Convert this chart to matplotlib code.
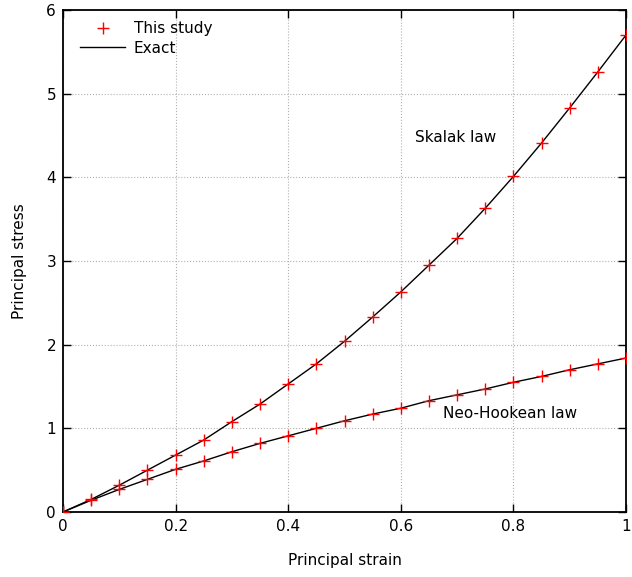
import numpy as np
import matplotlib.pyplot as plt

strain = [0.0, 0.05, 0.1, 0.15, 0.2, 0.25, 0.3, 0.35, 0.4, 0.45, 0.5,
          0.55, 0.6, 0.65, 0.7, 0.75, 0.8, 0.85, 0.9, 0.95, 1.0]
skalak = [0.0, 0.15, 0.32, 0.50, 0.68, 0.86, 1.08, 1.29, 1.53, 1.77, 2.04,
          2.33, 2.63, 2.95, 3.27, 3.63, 4.01, 4.41, 4.83, 5.26, 5.70]
neo = [0.0, 0.14, 0.27, 0.39, 0.51, 0.61, 0.72, 0.82, 0.91, 1.00, 1.09,
       1.17, 1.24, 1.33, 1.40, 1.47, 1.55, 1.62, 1.70, 1.77, 1.84]

fig = plt.figure(figsize=(6.32, 5.77), dpi=100)
ax = fig.add_axes([0.0997, 0.1127, 0.8908, 0.870])

ax.plot(strain, skalak, 'r+', ms=9, mew=1.0, ls='none', label='This study', zorder=3)
ax.plot(strain, skalak, 'k-', lw=1.0, label='Exact', zorder=2)
ax.plot(strain, neo, 'r+', ms=9, mew=1.0, ls='none', zorder=3)
ax.plot(strain, neo, 'k-', lw=1.0, zorder=2)

ax.text(0.625, 4.48, 'Skalak law', fontsize=11, va='center')
ax.text(0.675, 1.18, 'Neo-Hookean law', fontsize=11, va='center')

ax.set_xlim(0, 1)
ax.set_ylim(0, 6)
ax.set_xticks([0, 0.2, 0.4, 0.6, 0.8, 1])
ax.set_xticklabels(['0', '0.2', '0.4', '0.6', '0.8', '1'])
ax.set_yticks(range(7))
ax.tick_params(direction='in', length=6, width=1, top=True, right=True, labelsize=11, pad=5)
ax.grid(True, color='#b0b0b0', ls=':', lw=0.8)
for s in ax.spines.values():
    s.set_linewidth(1.3)

ax.set_xlabel('Principal strain', fontsize=11, labelpad=14)
ax.set_ylabel('Principal stress', fontsize=11, labelpad=14)
ax.legend(loc='upper left', bbox_to_anchor=(0.02, 0.99), frameon=False, fontsize=11,
          handlelength=2.9, borderaxespad=0, labelspacing=0.3, handletextpad=0.6)

fig.savefig('out.png', dpi=100)
